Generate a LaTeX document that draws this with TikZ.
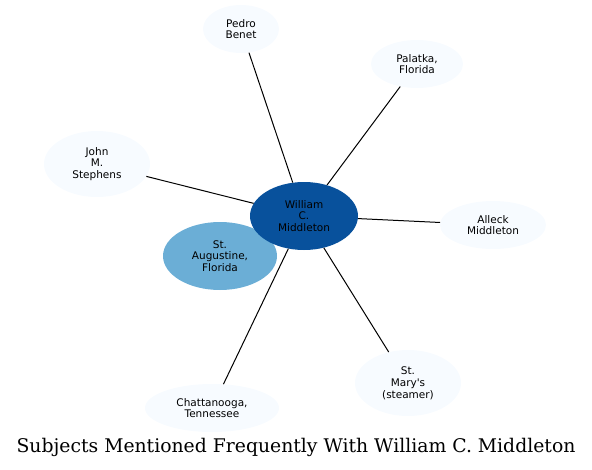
\documentclass[tikz,border=0pt]{standalone}
\usepackage{fontspec}
\setmainfont{DejaVu Serif}
\newfontfamily\nodefont{DejaVu Sans}
\usetikzlibrary{shapes.geometric}
\definecolor{pale}{HTML}{F7FBFF}
\definecolor{dark}{HTML}{08519C}
\definecolor{mid}{HTML}{6BAED6}
\tikzset{
  ent/.style={ellipse, fill=pale, draw=none, inner sep=0pt, align=center,
    font=\nodefont\fontsize{10.5}{11.8}\selectfont},
  link/.style={draw=black, line width=1pt}
}
\begin{document}
\begin{tikzpicture}[x=1pt,y=-1pt]
\useasboundingbox (0,0) rectangle (592,469);
\node[ent, minimum width=76, minimum height=48] (pedro) at (241,29) {Pedro\\Benet};
\node[ent, minimum width=92, minimum height=48] (palatka) at (417,64) {Palatka,\\Florida};
\node[ent, minimum width=106, minimum height=66] (john) at (97,164) {John\\M.\\Stephens};
\node[ent, minimum width=106, minimum height=48] (alleck) at (493,225) {Alleck\\Middleton};
\node[ent, minimum width=114, minimum height=68, fill=mid] (staug) at (220,256) {St.\\Augustine,\\Florida};
\node[ent, minimum width=108, minimum height=68, fill=dark] (will) at (304,216) {William\\C.\\Middleton};
\node[ent, minimum width=106, minimum height=66] (stmary) at (408,383) {St.\\Mary's\\(steamer)};
\node[ent, minimum width=134, minimum height=48] (chatt) at (212,408) {Chattanooga,\\Tennessee};
\draw[link] (pedro) -- (will);
\draw[link] (palatka) -- (will);
\draw[link] (john) -- (will);
\draw[link] (alleck) -- (will);
\draw[link] (stmary) -- (will);
\draw[link] (chatt) -- (will);
\node[font=\fontsize{18.8}{20}\selectfont] (title) at (296,447.5) {Subjects Mentioned Frequently With William C. Middleton};
\end{tikzpicture}
\end{document}
